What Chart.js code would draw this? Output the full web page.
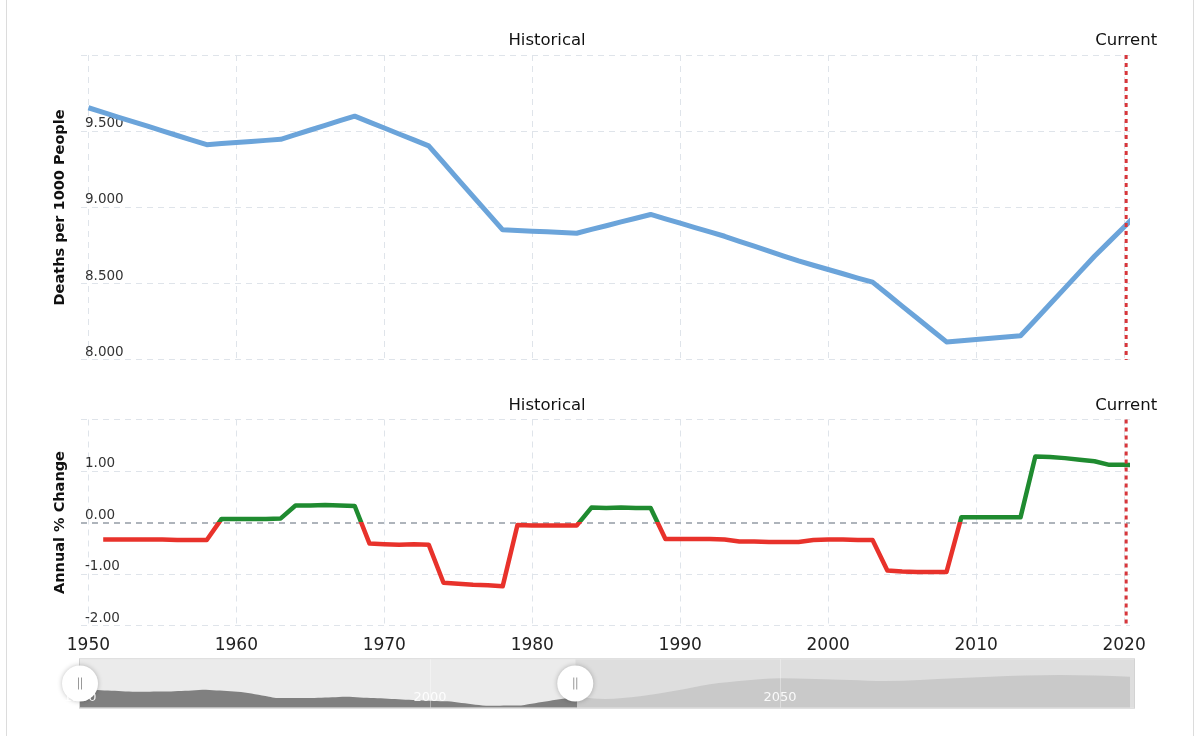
<!DOCTYPE html>
<html>
<head>
<meta charset="utf-8">
<title>Death Rate 1950-2020</title>
<script src="https://cdn.jsdelivr.net/npm/chart.js@4.4.1/dist/chart.umd.min.js"></script>
<style>
  html, body { margin: 0; padding: 0; background: #fff; }
  #wrap { position: relative; width: 1196px; height: 736px; overflow: hidden; }
  #frame { position: absolute; left: 6px; top: 0; width: 1186px; height: 736px;
           border-left: 1px solid #dcdcdc; border-right: 1px solid #dcdcdc; }
  canvas { position: absolute; left: 0; }
</style>
</head>
<body>
<div id="wrap">
  <div id="frame"></div>
  <canvas id="rate-chart" width="1196" height="372" style="top:0"></canvas>
  <canvas id="change-chart" width="1196" height="293" style="top:372px"></canvas>
  <canvas id="nav-chart" width="1196" height="80" style="top:640px"></canvas>
</div>
<script>
// death rate per 1000 people, yearly
const deathYears = [
  1950, 1951, 1952, 1953, 1954, 1955, 1956, 1957, 1958, 1959,
  1960, 1961, 1962, 1963, 1964, 1965, 1966, 1967, 1968, 1969,
  1970, 1971, 1972, 1973, 1974, 1975, 1976, 1977, 1978, 1979,
  1980, 1981, 1982, 1983, 1984, 1985, 1986, 1987, 1988, 1989,
  1990, 1991, 1992, 1993, 1994, 1995, 1996, 1997, 1998, 1999,
  2000, 2001, 2002, 2003, 2004, 2005, 2006, 2007, 2008, 2009,
  2010, 2011, 2012, 2013, 2014, 2015, 2016, 2017, 2018, 2019,
  2020, 2021
];
const deathRate = [
  9.654, 9.623, 9.593, 9.563, 9.533, 9.503, 9.472, 9.442, 9.412, 9.419,
  9.426, 9.433, 9.440, 9.447, 9.477, 9.508, 9.538, 9.569, 9.599, 9.560,
  9.521, 9.482, 9.443, 9.404, 9.294, 9.183, 9.073, 8.963, 8.853, 8.849,
  8.844, 8.840, 8.835, 8.831, 8.856, 8.880, 8.905, 8.929, 8.954, 8.925,
  8.897, 8.868, 8.840, 8.811, 8.778, 8.746, 8.713, 8.681, 8.649, 8.621,
  8.593, 8.565, 8.537, 8.510, 8.432, 8.353, 8.275, 8.196, 8.118, 8.126,
  8.134, 8.142, 8.150, 8.158, 8.262, 8.367, 8.471, 8.576, 8.680, 8.776,
  8.872, 8.968
];

// annual % change
const changeYears = [
  1951, 1952, 1953, 1954, 1955, 1956, 1957, 1958, 1959,
  1960, 1961, 1962, 1963, 1964, 1965, 1966, 1967, 1968, 1969,
  1970, 1971, 1972, 1973, 1974, 1975, 1976, 1977, 1978, 1979,
  1980, 1981, 1982, 1983, 1984, 1985, 1986, 1987, 1988, 1989,
  1990, 1991, 1992, 1993, 1994, 1995, 1996, 1997, 1998, 1999,
  2000, 2001, 2002, 2003, 2004, 2005, 2006, 2007, 2008, 2009,
  2010, 2011, 2012, 2013, 2014, 2015, 2016, 2017, 2018, 2019,
  2020, 2021
];
const changePct = [
  -0.33, -0.33, -0.33, -0.33, -0.33, -0.34, -0.34, -0.34, 0.07,
  0.07, 0.07, 0.07, 0.08, 0.33, 0.33, 0.34, 0.33, 0.32, -0.41,
  -0.42, -0.43, -0.42, -0.43, -1.17, -1.19, -1.21, -1.22, -1.24, -0.05,
  -0.06, -0.06, -0.06, -0.06, 0.29, 0.28, 0.29, 0.28, 0.28, -0.32,
  -0.32, -0.32, -0.32, -0.33, -0.37, -0.37, -0.38, -0.38, -0.38, -0.34,
  -0.33, -0.33, -0.34, -0.34, -0.93, -0.95, -0.96, -0.96, -0.96, 0.10,
  0.10, 0.10, 0.10, 0.10, 1.28, 1.27, 1.25, 1.22, 1.19, 1.12,
  1.12, 1.11
];

// projection shown only in the navigator
const projYears = [2025, 2030, 2035, 2040, 2045, 2050, 2055, 2060, 2065, 2070, 2075, 2080, 2085, 2090, 2095, 2100];
const projRate = [8.75, 9.0, 9.5, 10.1, 10.45, 10.65, 10.6, 10.5, 10.4, 10.5, 10.65, 10.8, 10.9, 10.95, 10.9, 10.8];

const xTicks = [1950, 1960, 1970, 1980, 1990, 2000, 2010, 2020];
const rateTicks = [8, 8.5, 9, 9.5, 10];
const changeTicks = [-2, -1, 0, 1, 2];
const navLabels = [1950, 2000, 2050];

const viewMin = 1949.5;
const viewMax = 2020.4;
const currentYear = 2020.14;
const historicalAt = 1981;
const navRange = [1950, 2100];
const navSelection = [1950, 2020.75];

const fontFamily = '"DejaVu Sans", Verdana, sans-serif';
const gridColor = '#dfe4ea';
const upColor = '#1f8b30';
const downColor = '#e8322b';

Chart.defaults.font.family = fontFamily;

// red "current" line and the Historical / Current captions
const eraMarks = {
  id: 'eraMarks',
  afterDatasetsDraw(chart) {
    const { ctx, chartArea, scales } = chart;
    const x = scales.x.getPixelForValue(currentYear);
    ctx.save();
    ctx.strokeStyle = '#d8363b';
    ctx.lineWidth = 3;
    ctx.setLineDash([4, 4]);
    ctx.beginPath();
    ctx.moveTo(x, chartArea.top);
    ctx.lineTo(x, chartArea.bottom);
    ctx.stroke();
    ctx.setLineDash([]);
    ctx.fillStyle = '#111';
    ctx.font = '16.5px ' + fontFamily;
    ctx.textAlign = 'center';
    ctx.textBaseline = 'middle';
    const ty = chartArea.top - 14;
    ctx.fillText('Historical', scales.x.getPixelForValue(historicalAt), ty);
    ctx.fillText('Current', x, ty);
    ctx.restore();
  }
};

function yearAxis(showLabels) {
  return {
    type: 'linear',
    min: viewMin,
    max: viewMax,
    afterBuildTicks: s => { s.ticks = xTicks.map(v => ({ value: v })); },
    afterFit: s => { s.height = showLabels ? 39.5 : 0; },
    grid: { color: gridColor, lineWidth: 1, drawTicks: false },
    border: { display: false, dash: [6, 5] },
    ticks: {
      display: showLabels, padding: 10, autoSkip: false, maxRotation: 0,
      color: '#222', font: { size: 17 },
      callback: v => String(v)
    }
  };
}

function valueAxis(ticks, top, decimals, title) {
  return {
    min: ticks[0],
    max: ticks[ticks.length - 1],
    afterBuildTicks: s => { s.ticks = ticks.map(v => ({ value: v })); },
    afterFit: s => { s.width = 81; },
    grid: {
      drawTicks: false,
      color: c => (decimals === 2 && c.tick && c.tick.value === 0) ? '#aeb4bb' : gridColor,
      lineWidth: c => (decimals === 2 && c.tick && c.tick.value === 0) ? 2 : 1
    },
    border: { display: false, dash: [6, 5] },
    ticks: {
      mirror: true, padding: 4, labelOffset: -7.5,
      color: '#333', font: { size: 13.5 },
      callback: v => v === top ? '' : v.toFixed(decimals)
    },
    title: {
      display: true, text: title, color: '#111',
      font: { size: 14.5, weight: 'bold' },
      padding: { top: 51.8, bottom: 0 }
    }
  };
}

new Chart(document.getElementById('rate-chart'), {
  type: 'line',
  data: {
    datasets: [{
      data: deathYears.map((yr, i) => ({ x: yr, y: deathRate[i] })),
      borderColor: '#6ba4da',
      borderWidth: 5,
      borderJoinStyle: 'round',
      pointRadius: 0,
      tension: 0
    }]
  },
  options: {
    responsive: false,
    animation: false,
    events: [],
    layout: { padding: { left: 0, right: 66, top: 55, bottom: 11.3 } },
    plugins: { legend: { display: false }, tooltip: { enabled: false } },
    scales: {
      x: yearAxis(false),
      y: valueAxis(rateTicks, 10, 3, 'Deaths per 1000 People')
    }
  },
  plugins: [eraMarks]
});

new Chart(document.getElementById('change-chart'), {
  type: 'line',
  data: {
    datasets: [{
      data: changeYears.map((yr, i) => ({ x: yr, y: changePct[i] })),
      borderColor(ctx) {
        const { chart } = ctx;
        const { chartArea, scales } = chart;
        if (!chartArea) return upColor;
        const zero = scales.y.getPixelForValue(0);
        const f = (zero - chartArea.top) / (chartArea.bottom - chartArea.top);
        const g = chart.ctx.createLinearGradient(0, chartArea.top, 0, chartArea.bottom);
        g.addColorStop(0, upColor);
        g.addColorStop(f, upColor);
        g.addColorStop(f, downColor);
        g.addColorStop(1, downColor);
        return g;
      },
      borderWidth: 4.5,
      borderJoinStyle: 'round',
      pointRadius: 0,
      tension: 0
    }]
  },
  options: {
    responsive: false,
    animation: false,
    events: [],
    layout: { padding: { left: 0, right: 66, top: 47.5, bottom: 0 } },
    plugins: { legend: { display: false }, tooltip: { enabled: false } },
    scales: {
      x: yearAxis(true),
      y: valueAxis(changeTicks, 2, 2, 'Annual % Change')
    }
  },
  plugins: [eraMarks]
});

// navigator: backgrounds, handles and year labels
const navigatorDecor = {
  id: 'navigatorDecor',
  beforeDatasetsDraw(chart) {
    const { ctx, chartArea: a, scales } = chart;
    const sx = scales.x.getPixelForValue(navSelection[1]);
    ctx.save();
    ctx.fillStyle = '#ebebeb';
    ctx.fillRect(a.left, a.top, sx - a.left, a.bottom - a.top);
    ctx.fillStyle = '#dedede';
    ctx.fillRect(sx, a.top, a.right + 4 - sx, a.bottom - a.top);
    ctx.strokeStyle = '#d3d3d3';
    ctx.lineWidth = 1;
    ctx.strokeRect(a.left - 0.5, a.top - 0.5, a.right + 4 - a.left + 1, a.bottom - a.top + 1);
    ctx.restore();
  },
  afterDraw(chart) {
    const { ctx, chartArea: a, scales } = chart;
    const cy = (a.top + a.bottom) / 2;
    ctx.save();
    ctx.strokeStyle = 'rgba(255,255,255,0.35)';
    ctx.lineWidth = 1;
    navLabels.slice(1).forEach(v => {
      const x = Math.round(scales.x.getPixelForValue(v)) + 0.5;
      ctx.beginPath();
      ctx.moveTo(x, a.top);
      ctx.lineTo(x, a.bottom);
      ctx.stroke();
    });
    navSelection.forEach(v => {
      const x = scales.x.getPixelForValue(v);
      ctx.save();
      ctx.shadowColor = 'rgba(0,0,0,0.25)';
      ctx.shadowBlur = 5;
      ctx.fillStyle = '#fff';
      ctx.beginPath();
      ctx.arc(x, cy, 18, 0, Math.PI * 2);
      ctx.fill();
      ctx.restore();
      ctx.strokeStyle = '#999';
      ctx.lineWidth = 1;
      ctx.beginPath();
      ctx.moveTo(x - 1.5, cy - 6); ctx.lineTo(x - 1.5, cy + 6);
      ctx.moveTo(x + 1.5, cy - 6); ctx.lineTo(x + 1.5, cy + 6);
      ctx.stroke();
    });
    ctx.fillStyle = 'rgba(255,255,255,0.9)';
    ctx.font = '13px ' + fontFamily;
    ctx.textAlign = 'center';
    ctx.textBaseline = 'middle';
    navLabels.forEach(v => ctx.fillText(String(v), scales.x.getPixelForValue(v), a.top + 38));
    ctx.restore();
  }
};

const navHist = deathYears.map((yr, i) => ({ x: yr, y: deathRate[i] }));
const navFuture = [{ x: deathYears[deathYears.length - 1], y: deathRate[deathRate.length - 1] }]
  .concat(projYears.map((yr, i) => ({ x: yr, y: projRate[i] })));

new Chart(document.getElementById('nav-chart'), {
  type: 'line',
  data: {
    datasets: [
      { data: navHist, fill: 'start', backgroundColor: '#808080', borderColor: 'transparent',
        borderWidth: 0, pointRadius: 0, cubicInterpolationMode: 'monotone' },
      { data: navFuture, fill: 'start', backgroundColor: '#c9c9c9', borderColor: 'transparent',
        borderWidth: 0, pointRadius: 0, cubicInterpolationMode: 'monotone' }
    ]
  },
  options: {
    responsive: false,
    animation: false,
    events: [],
    layout: { padding: { left: 80, right: 66, top: 19.3, bottom: 12.3 } },
    plugins: { legend: { display: false }, tooltip: { enabled: false } },
    scales: {
      x: { type: 'linear', min: navRange[0], max: navRange[1], display: false },
      y: { min: 7.95, max: 12.4, display: false }
    }
  },
  plugins: [navigatorDecor]
});
</script>
</body>
</html>
